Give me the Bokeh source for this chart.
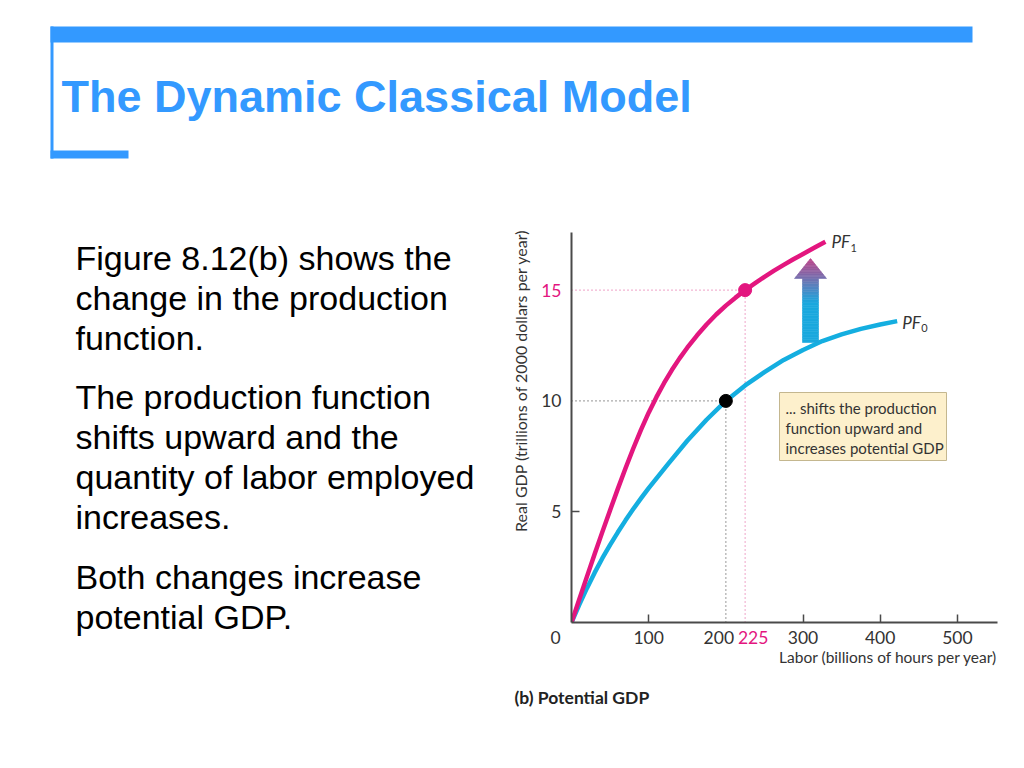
import math
from bokeh.plotting import figure
from bokeh.models import Range1d, FixedTicker, ColumnDataSource
from bokeh.core.properties import value
from bokeh.embed import file_html
from bokeh.resources import INLINE

# ---------------- data ----------------
labor_pf0 = [0, 10, 20, 30, 40, 50, 60, 70, 80, 90, 100, 125, 150, 175, 200, 225, 250, 275, 300,
             325, 350, 375, 400, 422]
gdp_pf0 = [0, 0.8, 1.55, 2.25, 2.9, 3.5, 4.07, 4.61, 5.12, 5.6, 6.06, 7.15, 8.2, 9.15, 10.0, 10.7,
           11.3, 11.85, 12.3, 12.7, 13.0, 13.25, 13.45, 13.6]
labor_pf1 = [0, 10, 20, 30, 40, 50, 60, 70, 80, 90, 100, 110, 120, 130, 140, 150, 162.5, 175,
             187.5, 200, 212.5, 225, 237.5, 250, 262.5, 275, 287.5, 300, 314.5, 329]
gdp_pf1 = [0, 1.04, 2.07, 3.09, 4.09, 5.07, 6.03, 6.96, 7.85, 8.69, 9.47, 10.17, 10.81, 11.39,
           11.92, 12.4, 12.95, 13.45, 13.9, 14.3, 14.66, 15.0, 15.3, 15.6, 15.88, 16.14, 16.39,
           16.63, 16.91, 17.18]
eq_labor = [200, 225]          # PF0 point, PF1 point
eq_gdp = [10, 15]
x_tick_values = [0, 100, 200, 225, 300, 400, 500]
x_tick_labels = ["0", "100", "200", "225", "300", "400", "500"]
y_tick_values = [5, 10, 15]
y_tick_labels = ["5", "10", "15"]
x_axis_max = 552
y_axis_max = 17.6

title_text = "The Dynamic Classical Model"
bullets = [
    ["Figure 8.12(b) shows the", "change in the production", "function."],
    ["The production function", "shifts upward and the", "quantity of labor employed", "increases."],
    ["Both changes increase", "potential GDP."],
]
note_lines = ["... shifts the production", "function upward and", "increases potential GDP"]

# ---------------- styles ----------------
PINK = "#e3167f"
CYAN = "#14aee0"
BLUE = "#3399ff"
TXT = "#333333"
FONT = "Lato"

# page-pixel geometry of the plot frame
PX_L, PX_R, PX_T, PX_B = 571, 997, 232, 622

def dx(px):
    return (px - PX_L) * x_axis_max / (PX_R - PX_L)

def dy(py):
    return (PX_B - py) * y_axis_max / (PX_B - PX_T)

p = figure(frame_width=PX_R - PX_L, frame_height=PX_B - PX_T,
           min_border_left=PX_L, min_border_right=10,
           min_border_top=PX_T, min_border_bottom=88,
           x_range=Range1d(0, x_axis_max), y_range=Range1d(0, y_axis_max),
           output_backend="svg", toolbar_location=None, tools="")
p.outline_line_color = None
p.grid.visible = False
p.background_fill_color = "white"
p.border_fill_color = "white"

for ax in (p.xaxis, p.yaxis):
    ax.axis_line_color = "#4a4a4a"
    ax.axis_line_width = 2
    ax.major_tick_in = 8
    ax.major_tick_out = 0
    ax.major_tick_line_color = "#4a4a4a"
    ax.major_tick_line_width = 1.5
    ax.minor_tick_line_color = None
    ax.major_label_text_color = None
p.xaxis.ticker = FixedTicker(ticks=[v for v in x_tick_values if v not in (0,) + tuple(eq_labor)])
p.yaxis.ticker = FixedTicker(ticks=[v for v in y_tick_values if v not in eq_gdp])

# dotted guide lines
guide_colors = ["#555555", "#e56aa6"]
for L, Y, c in zip(eq_labor, eq_gdp, guide_colors):
    p.line([0, L], [Y, Y], line_color=c, line_width=1.2, line_dash="1 3")
    p.line([L, L], [0, Y], line_color=c, line_width=1.2, line_dash="1 3")

# production functions
p.line(labor_pf0, gdp_pf0, line_color=CYAN, line_width=4.5, line_join="round")
p.line(labor_pf1, gdp_pf1, line_color=PINK, line_width=4.5, line_join="round")
p.scatter(eq_labor, eq_gdp, size=13, fill_color=["black", PINK], line_color=["black", PINK])

# gradient shift arrow
ax_c = dx(810)
hw_s = dx(818) - dx(810)
hw_h = dx(826) - dx(810)
y_bot, y_grad, y_hb, y_tip = dy(342), dy(302), dy(278), dy(258)
c0 = (26, 168, 222)
c1 = (190, 68, 138)

def grad(y):
    if y <= y_grad:
        return "#%02x%02x%02x" % c0
    t = min(1.0, (y - y_grad) / (y_tip - y_grad))
    return "#%02x%02x%02x" % tuple(int(a + (b - a) * t) for a, b in zip(c0, c1))

xs, ys, cs = [], [], []
n1 = 24
for i in range(n1):
    a = y_bot + (y_hb - y_bot) * i / n1
    b = y_bot + (y_hb - y_bot) * (i + 1) / n1
    xs.append([ax_c - hw_s, ax_c + hw_s, ax_c + hw_s, ax_c - hw_s])
    ys.append([a, a, b, b])
    cs.append(grad((a + b) / 2))
n2 = 12
for i in range(n2):
    a = y_hb + (y_tip - y_hb) * i / n2
    b = y_hb + (y_tip - y_hb) * (i + 1) / n2
    wa = hw_h * (y_tip - a) / (y_tip - y_hb)
    wb = hw_h * (y_tip - b) / (y_tip - y_hb)
    xs.append([ax_c - wa, ax_c + wa, ax_c + wb, ax_c - wb])
    ys.append([a, a, b, b])
    cs.append(grad((a + b) / 2))
p.patches(xs, ys, fill_color=cs, line_color=cs, line_width=0.6)


def txt(x, y, text, size, color=TXT, font=FONT, style="normal", align="left",
        baseline="middle", angle=0.0, xo=0, yo=0):
    p.text(x=[x], y=[y], text=[text], angle=angle, x_offset=xo, y_offset=yo,
           text_font=value(font), text_font_size=value(size), text_font_style=style,
           text_color=color, text_align=align, text_baseline=baseline, level="overlay")

# PF labels
for sub, xe, ye, xo, yo in [("1", labor_pf1[-1], gdp_pf1[-1], 6, 0),
                            ("0", labor_pf0[-1], gdp_pf0[-1], 5, 1)]:
    txt(xe, ye, "PF", "17px", style="italic", xo=xo, yo=yo)
    txt(xe, ye, sub, "11px", xo=xo + 19, yo=yo + 6)

# tick labels
x_off = {0: -16, eq_labor[0]: -7, eq_labor[1]: 8}
xsrc = ColumnDataSource(dict(
    x=x_tick_values, y=[0] * len(x_tick_values), text=x_tick_labels,
    off=[x_off.get(v, 0) for v in x_tick_values],
    col=[PINK if v == eq_labor[1] else TXT for v in x_tick_values]))
p.text(source=xsrc, x="x", y="y", text="text", x_offset="off", y_offset=15,
       text_color="col", text_font=value(FONT), text_font_size=value("17.5px"),
       text_align="center", text_baseline="middle", level="overlay")
ysrc = ColumnDataSource(dict(
    x=[0] * len(y_tick_values), y=y_tick_values, text=y_tick_labels,
    col=[PINK if v == eq_gdp[1] else TXT for v in y_tick_values]))
p.text(source=ysrc, x="x", y="y", text="text", x_offset=-10,
       text_color="col", text_font=value(FONT), text_font_size=value("17.5px"),
       text_align="right", text_baseline="middle", level="overlay")

# axis titles
txt(dx(520), dy(380), "Real GDP (trillions of 2000 dollars per year)", "16px",
    align="center", angle=math.pi / 2)
txt(x_axis_max, dy(656), "Labor (billions of hours per year)", "15.5px", align="right")
txt(dx(514), dy(697), "(b) Potential GDP", "17.5px", color="#222222", style="bold")

# annotation box
p.quad(left=[dx(779)], right=[dx(946)], top=[dy(392)], bottom=[dy(460)],
       fill_color="#fdf0cc", line_color="#c4b78f", line_width=1)
for i, t in enumerate(note_lines):
    txt(dx(785), dy(407 + 20 * i), t, "15px")

# slide decoration and title
deco = [(50, 972, 26, 42), (50, 53, 26, 158), (50, 128, 150, 158)]
p.quad(left=[dx(d[0]) for d in deco], right=[dx(d[1]) for d in deco],
       top=[dy(d[2]) for d in deco], bottom=[dy(d[3]) for d in deco],
       fill_color=BLUE, line_color=None, level="overlay")
txt(dx(61), dy(96), title_text, "45px", color=BLUE, font="Liberation Sans", style="bold")

# bullet text
base = [257, 396, 576]
for para, b0 in zip(bullets, base):
    for j, line in enumerate(para):
        txt(dx(75), dy(b0 + 40.3 * j), line, "34px", color="black", font="Liberation Sans")

open("out.html", "w").write(file_html(p, INLINE))
